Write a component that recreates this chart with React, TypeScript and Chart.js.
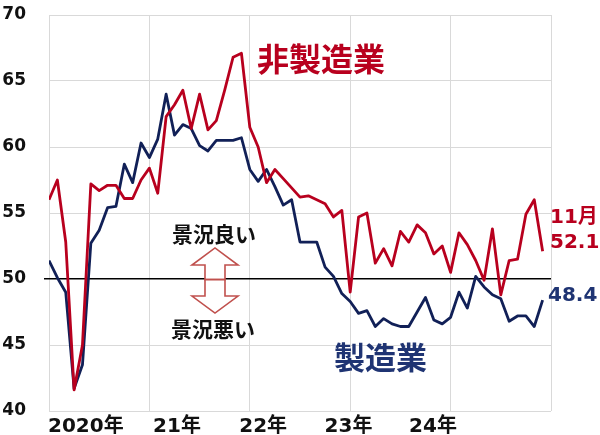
import React, { useEffect, useRef } from "react";
import { Chart, registerables } from "chart.js";

Chart.register(...registerables);

// ---- data ----
const nonManufacturing = [
  56.0, 57.5, 52.8, 41.6, 45.0, 57.2, 56.7, 57.1, 57.1, 56.1, 56.1, 57.5,
  58.4, 56.5, 62.3, 63.2, 64.3, 61.4, 64.0, 61.3, 62.0, 64.3, 66.8, 67.1,
  61.5, 60.0, 57.3, 58.3, 57.6, 56.9, 56.2, 56.3, 56.0, 55.7, 54.7, 55.2,
  49.0, 54.7, 55.0, 51.2, 52.3, 51.0, 53.6, 52.8, 54.1, 53.5, 51.9, 52.5,
  50.5, 53.5, 52.6, 51.4, 49.9, 53.8, 48.8, 51.4, 51.5, 54.9, 56.0, 52.1,
];
const manufacturing = [
  51.4, 50.1, 49.0, 41.7, 43.5, 52.7, 53.7, 55.4, 55.5, 58.7, 57.3, 60.3,
  59.2, 60.6, 64.0, 60.9, 61.7, 61.4, 60.1, 59.7, 60.5, 60.5, 60.5, 60.7,
  58.3, 57.4, 58.3, 57.0, 55.6, 56.0, 52.8, 52.8, 52.8, 50.9, 50.2, 48.9,
  48.3, 47.4, 47.6, 46.4, 47.0, 46.6, 46.4, 46.4, 47.5, 48.6, 46.9, 46.6,
  47.1, 49.0, 47.8, 50.2, 49.4, 48.8, 48.5, 46.8, 47.2, 47.2, 46.4, 48.4,
];
const seriesNames = ["非製造業", "製造業"];
const yearLabels = ["2020年", "21年", "22年", "23年", "24年"];
const yearLabelPos = [4.4, 15.3, 25.6, 35.8, 45.9];
const yearGridPos = [0, 12, 24, 36, 48, 60];
const lastMonthLabel = "11月";
const goodLabel = "景況良い";
const badLabel = "景況悪い";

const RED = "#b8001e";
const NAVY = "#112057";
const NAVY_TEXT = "#1f3473";
const GRID = "#d9d9d9";
const ARROW = "#c0504d";
const NUM_FONT = "'DejaVu Sans', 'Noto Sans CJK JP', sans-serif";
const CJK_FONT = "'Noto Sans CJK JP', 'DejaVu Sans', sans-serif";

const annotationPlugin = {
  id: "annotations",
  afterDatasetsDraw(chart: any) {
    const { ctx } = chart;
    const xs = chart.scales.x;
    const ys = chart.scales.y;
    const px = (m: number) => xs.getPixelForValue(m);
    const py = (v: number) => ys.getPixelForValue(v);
    ctx.save();

    // double arrow
    const cx = px(19.84);
    const drawArrow = (tip: number, headBase: number, base: number) => {
      ctx.beginPath();
      ctx.moveTo(cx - 10, base);
      ctx.lineTo(cx - 10, headBase);
      ctx.lineTo(cx - 23, headBase);
      ctx.lineTo(cx, tip);
      ctx.lineTo(cx + 23, headBase);
      ctx.lineTo(cx + 10, headBase);
      ctx.lineTo(cx + 10, base);
      ctx.closePath();
      ctx.fillStyle = "#ffffff";
      ctx.fill();
      ctx.lineWidth = 1.6;
      ctx.strokeStyle = ARROW;
      ctx.lineJoin = "miter";
      ctx.stroke();
    };
    drawArrow(py(52.35), py(51.06), py(49.95));
    drawArrow(py(47.42), py(48.71), py(49.95));

    ctx.textBaseline = "middle";
    // good / bad labels
    ctx.textAlign = "center";
    ctx.fillStyle = "#111111";
    ctx.font = `bold 21px ${CJK_FONT}`;
    ctx.fillText(goodLabel, px(19.72), py(53.41));
    ctx.fillText(badLabel, px(19.6), py(46.21));

    // series names
    ctx.textAlign = "left";
    ctx.font = `bold 32px ${CJK_FONT}`;
    ctx.fillStyle = RED;
    ctx.fillText(seriesNames[0], px(24.86), py(66.7));
    ctx.font = `bold 31px ${CJK_FONT}`;
    ctx.fillStyle = NAVY_TEXT;
    ctx.fillText(seriesNames[1], px(34.06), py(44.05));

    // last values
    const lastN = nonManufacturing[nonManufacturing.length - 1];
    const lastM = manufacturing[manufacturing.length - 1];
    ctx.font = `bold 20px ${NUM_FONT}`;
    ctx.fillStyle = RED;
    ctx.fillText(lastMonthLabel, px(59.88), py(54.62));
    ctx.fillText(lastN.toFixed(1), px(59.88), py(52.77));
    ctx.fillStyle = NAVY_TEXT;
    ctx.fillText(lastM.toFixed(1), px(59.64), py(48.75));
    ctx.restore();
  },
};

export default function App() {
  const ref = useRef<HTMLCanvasElement>(null);
  useEffect(() => {
    const canvas = ref.current;
    if (!canvas) return;
    Chart.defaults.font.family = NUM_FONT;
    const chart = new Chart(canvas, {
      type: "line",
      data: {
        datasets: [
          {
            label: seriesNames[0],
            data: nonManufacturing.map((v, i) => ({ x: i, y: v })),
            borderColor: RED,
            borderWidth: 2.8,
            pointRadius: 0,
            tension: 0,
            borderJoinStyle: "round",
            fill: false,
          },
          {
            label: seriesNames[1],
            data: manufacturing.map((v, i) => ({ x: i, y: v })),
            borderColor: NAVY,
            borderWidth: 2.8,
            pointRadius: 0,
            tension: 0,
            borderJoinStyle: "round",
            fill: false,
          },
        ],
      },
      options: {
        responsive: false,
        animation: false,
        events: [],
        layout: { padding: { left: 3, right: 49, top: 15, bottom: 0 } },
        plugins: { legend: { display: false }, tooltip: { enabled: false } },
        scales: {
          x: {
            type: "linear",
            min: 0,
            max: 60,
            afterBuildTicks: (scale: any) => {
              scale.ticks = [...yearGridPos, ...yearLabelPos]
                .sort((a, b) => a - b)
                .map((v) => ({ value: v }));
            },
            afterFit: (scale: any) => {
              scale.height = 24;
              scale.paddingLeft = 0;
              scale.paddingRight = 0;
            },
            grid: {
              color: (c: any) =>
                c.tick && yearGridPos.includes(c.tick.value) ? GRID : "rgba(0,0,0,0)",
              drawTicks: false,
              lineWidth: 1,
            },
            border: { display: false },
            ticks: {
              autoSkip: false,
              maxRotation: 0,
              padding: 4,
              color: "#111111",
              font: { size: 20, weight: "bold" },
              callback: (value: any) => {
                const k = yearLabelPos.indexOf(value);
                return k >= 0 ? yearLabels[k] : "";
              },
            },
          },
          y: {
            min: 40,
            max: 70,
            afterFit: (scale: any) => {
              scale.width = 46;
              scale.paddingTop = 0;
              scale.paddingBottom = 0;
            },
            ticks: {
              stepSize: 5,
              padding: 18,
              color: "#111111",
              font: { size: 17, weight: "bold" },
            },
            grid: {
              color: (c: any) => (c.tick && c.tick.value === 50 ? "#000000" : GRID),
              lineWidth: (c: any) => (c.tick && c.tick.value === 50 ? 1.5 : 1),
              tickColor: (c: any) =>
                c.tick && c.tick.value === 50 ? "#000000" : "rgba(0,0,0,0)",
              tickLength: 5,
              drawTicks: true,
            },
            border: { display: false },
          },
        },
      },
      plugins: [annotationPlugin],
    } as any);
    return () => chart.destroy();
  }, []);
  return (
    <div
      style={{
        position: "fixed",
        left: 0,
        top: 0,
        width: 600,
        height: 435,
        background: "#ffffff",
      }}
    >
      <canvas ref={ref} width={600} height={435} style={{ display: "block" }} />
    </div>
  );
}
